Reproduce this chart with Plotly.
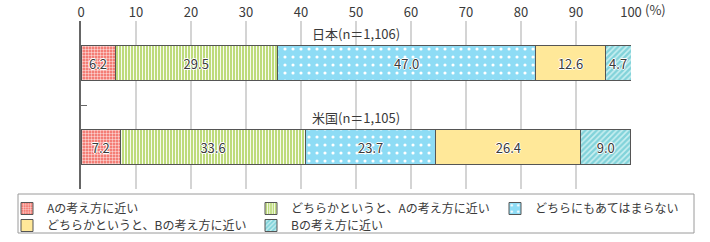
import plotly.graph_objects as go

countries = ["日本", "米国"]
sample_n = ["1,106", "1,105"]
series_names = [
    "Aの考え方に近い",
    "どちらかというと、Aの考え方に近い",
    "どちらにもあてはまらない",
    "どちらかというと、Bの考え方に近い",
    "Bの考え方に近い",
]
values = [
    [6.2, 7.2],
    [29.5, 33.6],
    [47.0, 23.7],
    [12.6, 26.4],
    [4.7, 9.0],
]
x_ticks = [0, 10, 20, 30, 40, 50, 60, 70, 80, 90, 100]

FONT = "Noto Sans CJK JP, Noto Sans, sans-serif"
TXT = "#3a3a3a"
W, H = 710, 242

patterns = [
    dict(shape="+", bgcolor="#f47e76", fgcolor="#ffffff", size=3, solidity=0.25, fillmode="replace"),
    dict(shape="|", bgcolor="#bedb7c", fgcolor="#ffffff", size=3, solidity=0.3, fillmode="replace"),
    dict(shape=".", bgcolor="#8edcf5", fgcolor="#ffffff", size=8, solidity=0.12, fillmode="replace"),
    None,
    dict(shape="/", bgcolor="#82d3da", fgcolor="#c9eff1", size=4, solidity=0.4, fillmode="replace"),
]
colors = ["#f47e76", "#bedb7c", "#8edcf5", "#ffe899", "#82d3da"]
legend_ids = ["legend", "legend2", "legend3", "legend4", "legend5"]
# legend entry placement (pixels): left edge, top edge
legend_px = [(7, 194), (251, 194), (495, 194), (7, 211), (251, 211)]

halo = "1px 0px 0px #fff, -1px 0px 0px #fff, 0px 1px 0px #fff, 0px -1px 0px #fff"

fig = go.Figure()
for name, vals, pat, col, lg in zip(series_names, values, patterns, colors, legend_ids):
    marker = dict(color=col, line=dict(color="#555555", width=1))
    if pat is not None:
        marker["pattern"] = pat
    fig.add_trace(go.Bar(
        y=countries, x=vals, name=name, orientation="h",
        marker=marker, width=0.405, legend=lg,
        text=[f"{v:.1f}" for v in vals],
        textposition="inside", insidetextanchor="middle",
        textangle=0, constraintext="none",
        textfont=dict(family=FONT, size=13, color=TXT, shadow=halo),
        hoverinfo="skip",
    ))

for i, (c, n) in enumerate(zip(countries, sample_n)):
    fig.add_annotation(x=50, y=i, yshift=30, text=f"{c}(n＝{n})", showarrow=False,
                       font=dict(family=FONT, size=13, color=TXT), xref="x", yref="y")

fig.add_annotation(x=100, y=1 - 10 / H, xref="x", yref="paper", xshift=12,
                   xanchor="left", yanchor="middle", text="(%)", showarrow=False,
                   font=dict(family=FONT, size=13, color=TXT))

# legend frame
fig.add_shape(type="rect", xref="paper", yref="paper",
              x0=18 / W, x1=694 / W, y0=1 - 194 / H, y1=1 - 233 / H,
              line=dict(color="#9a9a9a", width=1), fillcolor="rgba(0,0,0,0)")

leg_common = dict(orientation="h", xanchor="left", yanchor="top", borderwidth=0,
                  bgcolor="rgba(0,0,0,0)", font=dict(family=FONT, size=12, color=TXT),
                  itemwidth=30, tracegroupgap=0)
legends = {}
for lg, (lx, ly) in zip(legend_ids, legend_px):
    legends[lg] = dict(x=lx / W, y=1 - ly / H, **leg_common)

fig.update_layout(
    barmode="stack",
    width=W, height=H,
    margin=dict(l=0, r=0, t=0, b=0),
    plot_bgcolor="white", paper_bgcolor="white",
    font=dict(family=FONT, size=13, color=TXT),
    xaxis=dict(side="top", range=[0, 100], domain=[81 / W, 631 / W], automargin=False,
               tickvals=x_ticks, ticktext=[str(t) for t in x_ticks],
               showgrid=True, gridcolor="#d4d4d4", gridwidth=1.5, zeroline=False,
               showline=False, ticks="",
               tickfont=dict(size=13, color=TXT)),
    yaxis=dict(range=[1.5, -0.5], domain=[1 - 189 / H, 1 - 21 / H], automargin=False,
               showticklabels=False, showgrid=False, zeroline=False,
               showline=True, linecolor="#666666", linewidth=1.5,
               ticks="inside", tickson="boundaries", ticklen=6, tickcolor="#666666"),
    showlegend=True,
    **legends,
)

fig.write_html("out.html")
